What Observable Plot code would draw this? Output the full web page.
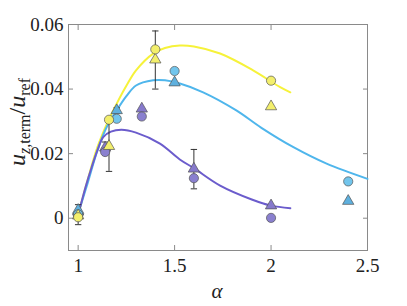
<!DOCTYPE html>
<html><head><meta charset="utf-8">
<script src="https://cdn.jsdelivr.net/npm/d3@7"></script>
<script src="https://cdn.jsdelivr.net/npm/@observablehq/plot@0.6"></script>
<style>body{margin:0;background:#fff} svg text{font-family:"Liberation Serif","DejaVu Serif",serif !important;}</style>
</head><body><div id="chart"></div>
<script>
// ---- data ----
const xTicks = [1, 1.5, 2, 2.5];
const yTicks = [0, 0.02, 0.04, 0.06];

// model curves
const yellowCurveA = [1.01, 1.05, 1.10, 1.157, 1.20, 1.25, 1.30, 1.389, 1.45, 1.527, 1.60, 1.736, 1.907, 2.047, 2.10];
const yellowCurveV = [0.0033, 0.012, 0.022, 0.0303, 0.0355, 0.041, 0.0458, 0.051, 0.0527, 0.0535, 0.0532, 0.051, 0.0458, 0.0406, 0.039];
const cyanCurveA = [1.01, 1.05, 1.10, 1.15, 1.20, 1.25, 1.30, 1.389, 1.45, 1.527, 1.648, 1.82, 1.95, 2.116, 2.288, 2.5];
const cyanCurveV = [0.0033, 0.011, 0.021, 0.0285, 0.0334, 0.0378, 0.0411, 0.0427, 0.0427, 0.0417, 0.039, 0.0334, 0.028, 0.022, 0.0169, 0.0122];
const purpleCurveA = [1.01, 1.04, 1.07, 1.10, 1.13, 1.17, 1.225, 1.30, 1.424, 1.527, 1.60, 1.736, 1.90, 2.0, 2.1];
const purpleCurveV = [0.0033, 0.010, 0.0158, 0.021, 0.0251, 0.0268, 0.0274, 0.0265, 0.0231, 0.0182, 0.0155, 0.0101, 0.0058, 0.0039, 0.0031];

// measurements: circles and triangles
const yellowA = [1, 1.16, 1.4, 2];
const yellowCircle = [0.0003, 0.0305, 0.0523, 0.0426];
const yellowTri = [0.0008, 0.0223, 0.0491, 0.0346];
const cyanA = [1, 1.2, 1.5, 2.4];
const cyanCircle = [0.0012, 0.0308, 0.0456, 0.0114];
const cyanTri = [0.0025, 0.0334, 0.042, 0.0053];
const purpleA = [1, 1.14, 1.33, 1.6, 2];
const purpleCircle = [0.0008, 0.0205, 0.0315, 0.0124, 0.0001];
const purpleTri = [0.002, 0.0218, 0.0339, 0.0153, 0.0039];

// error bars
const errA = [1, 1.16, 1.2, 1.14, 1.4, 1.6];
const errLo = [-0.002, 0.0145, 0.0325, 0.0205, 0.040, 0.0091];
const errHi = [0.0042, 0.030, 0.0342, 0.0236, 0.058, 0.0213];

// ---- build ----
const toPts = (xs, ys) => xs.map((x, i) => ({x, y: ys[i]}));
const errs = errA.map((x, i) => ({x, lo: errLo[i], hi: errHi[i]}));
const capSymbol = {draw(ctx, size) { const w = Math.sqrt(size); ctx.moveTo(-w, 0); ctx.lineTo(w, 0); }};

const C = {
  yLine: "#f6f23a", yFill: "#f3ef6c",
  cLine: "#4fb6ec", cFill: "#72c5ec", cTri: "#5eb0de",
  pLine: "#6b5ccc", pFill: "#8a80cf", pTri: "#8679cc"
};
const frameCol = "#8a8a8a";
const serif = "Liberation Serif, DejaVu Serif, serif";

function series(a, circ, tri, fillC, fillT) {
  return [
    Plot.dot(toPts(a, tri), {x: "x", y: "y", symbol: "triangle", r: 4.2, fill: fillT, stroke: "#555", strokeWidth: 0.7}),
    Plot.dot(toPts(a, circ), {x: "x", y: "y", symbol: "circle", r: 4.6, fill: fillC, stroke: "#555", strokeWidth: 0.7})
  ];
}

const chart = Plot.plot({
  width: 407, height: 306,
  marginLeft: 68, marginRight: 40, marginTop: 24, marginBottom: 56,
  style: {fontFamily: serif, fontSize: "19px", color: "#222", background: "#fff"},
  x: {domain: [0.95, 2.5], ticks: xTicks, label: null},
  y: {domain: [-0.01, 0.06], ticks: yTicks, label: null},
  marks: [
    Plot.frame({stroke: frameCol, strokeWidth: 1}),
    Plot.axisX({anchor: "bottom", ticks: xTicks, tickSize: -5, tickPadding: 13, stroke: frameCol, fill: "#222", tickFormat: d => String(d), label: null}),
    Plot.axisX({anchor: "top", ticks: xTicks, tickSize: -5, stroke: frameCol, fill: "none", label: null}),
    Plot.axisY({anchor: "left", ticks: yTicks, tickSize: -5, tickPadding: 10, stroke: frameCol, fill: "#222", tickFormat: d => d === 0 ? "0" : d.toFixed(2), label: null}),
    Plot.axisY({anchor: "right", ticks: yTicks, tickSize: -5, stroke: frameCol, fill: "none", label: null}),
    Plot.line(toPts(yellowCurveA, yellowCurveV), {x: "x", y: "y", stroke: C.yLine, strokeWidth: 2, curve: "catmull-rom"}),
    Plot.line(toPts(cyanCurveA, cyanCurveV), {x: "x", y: "y", stroke: C.cLine, strokeWidth: 2, curve: "catmull-rom"}),
    Plot.line(toPts(purpleCurveA, purpleCurveV), {x: "x", y: "y", stroke: C.pLine, strokeWidth: 2, curve: "catmull-rom"}),
    Plot.ruleX(errs, {x: "x", y1: "lo", y2: "hi", stroke: "#333", strokeWidth: 1}),
    Plot.dot(errs, {x: "x", y: "lo", symbol: capSymbol, r: 1.8, stroke: "#333", strokeWidth: 1}),
    Plot.dot(errs, {x: "x", y: "hi", symbol: capSymbol, r: 1.8, stroke: "#333", strokeWidth: 1}),
    ...series(purpleA, purpleCircle, purpleTri, C.pFill, C.pTri),
    ...series(cyanA, cyanCircle, cyanTri, C.cFill, C.cTri),
    ...series(yellowA, yellowCircle, yellowTri, C.yFill, C.yFill)
  ]
});

const svg = d3.select(chart);
// x label
svg.append("text").attr("x", 217).attr("y", 298).attr("text-anchor", "middle")
  .style("font-size", "21px").style("font-style", "italic").attr("fill", "#222").text("α");
// y label
const yl = svg.append("text").attr("transform", "translate(25,122) rotate(-90)").attr("text-anchor", "middle")
  .style("font-size", "24px").attr("fill", "#222");
yl.append("tspan").style("font-style", "italic").text("u");
yl.append("tspan").attr("dy", 5).style("font-size", "16px").style("font-style", "italic").text("z");
yl.append("tspan").style("font-size", "16px").text(",term");
yl.append("tspan").attr("dy", -5).text("/");
yl.append("tspan").style("font-style", "italic").text("u");
yl.append("tspan").attr("dy", 5).style("font-size", "16px").text("ref");

document.getElementById("chart").appendChild(chart);
</script>
</body></html>
